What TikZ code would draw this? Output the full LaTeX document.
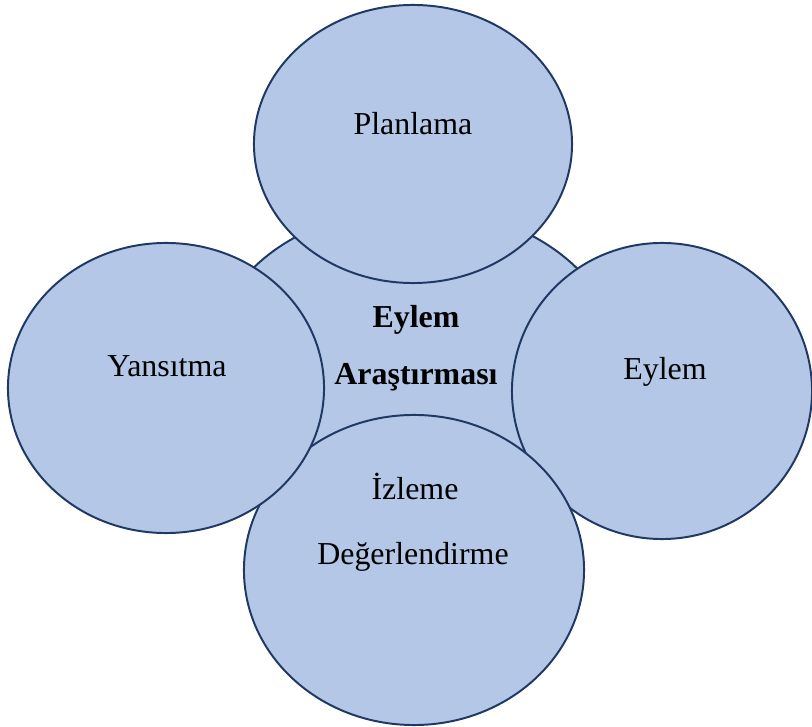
\documentclass[tikz,border=0pt]{standalone}
\usepackage{fontspec}
\setmainfont{Liberation Serif}
\usepackage{xcolor}
\usepackage{tikz}
\usetikzlibrary{shapes,positioning,calc}

\definecolor{cfill}{RGB}{180,199,231}
\definecolor{cline}{RGB}{31,56,100}

\begin{document}
\begin{tikzpicture}[x=0.025cm, y=-0.025cm,
    oval/.style={ellipse, draw=cline, fill=cfill, line width=1.4pt, inner sep=0pt},
    txt/.style={anchor=base, inner sep=0pt, font=\fontsize{22.7}{27}\selectfont},
    btxt/.style={txt, font=\fontsize{22.7}{27}\selectfont\bfseries}
]
    \useasboundingbox (0,0) rectangle (812,727);

    % Ellipses
    \node[oval, minimum width=10.15cm, minimum height=7.6cm] (merkez) at (415,360) {};
    \node[oval, minimum width=7.95cm, minimum height=6.95cm] (plan) at (413,144) {};
    \node[oval, minimum width=7.5cm, minimum height=7.4cm] (eylem) at (662,391) {};
    \node[oval, minimum width=8.5cm, minimum height=7.75cm] (izle) at (414,570) {};
    \node[oval, minimum width=7.9cm, minimum height=7.25cm] (yans) at (166,388) {};

    % Texts
    \node[btxt] (merkez1) at (416,328) {Eylem};
    \node[btxt] (merkez2) at (416,385) {Araştırması};
    \node[txt] (plant) at (413,135) {Planlama};
    \node[txt] (eylemt) at (665,380) {Eylem};
    \node[txt] (izle1) at (415,500) {İzleme};
    \node[txt] (izle2) at (413,565) {Değerlendirme};
    \node[txt] (yanst) at (167,377) {Yansıtma};
\end{tikzpicture}
\end{document}
